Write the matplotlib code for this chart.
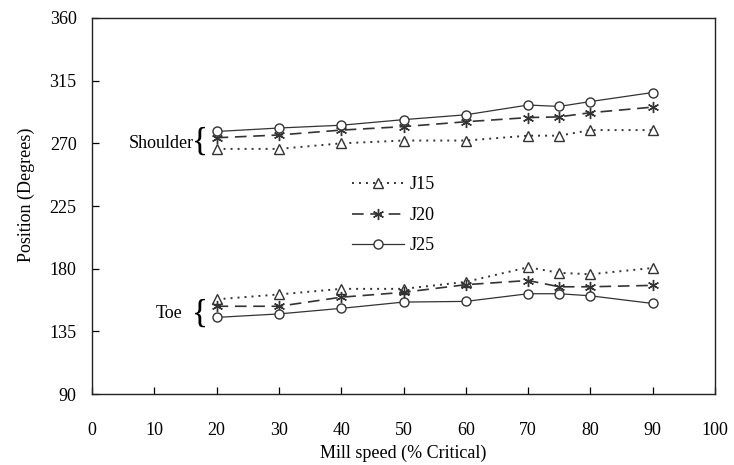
import matplotlib
matplotlib.use('Agg')
import matplotlib.pyplot as plt

plt.rcParams['font.family'] = ['Liberation Serif', 'DejaVu Serif']

# mill speed (% critical)
speed = [20, 30, 40, 50, 60, 70, 75, 80, 90]

# shoulder position (degrees)
shoulder_j15 = [266, 266, 270, 272, 272, 275.5, 275.5, 279.5, 279.5]
shoulder_j20 = [274, 276, 279.5, 282, 285.5, 288.5, 289, 292, 296]
shoulder_j25 = [278.5, 281, 283, 287, 290.5, 297.5, 296.5, 300, 306.5]

# toe position (degrees)
toe_j15 = [158, 161.5, 165.5, 165.5, 170.5, 181, 177, 176, 180.5]
toe_j20 = [153, 153, 159.5, 163, 168.5, 171.5, 167, 167, 168]
toe_j25 = [145, 147.5, 151.5, 156, 156.5, 162, 162, 160.5, 155]

x_ticks = list(range(0, 101, 10))
y_ticks = [90, 135, 180, 225, 270, 315, 360]

fig = plt.figure(figsize=(7.34, 4.65), dpi=100)
ax = fig.add_axes([92 / 734, 1 - 394 / 465, 623 / 734, 376 / 465])

col = '#333333'
dot = dict(color=col, lw=1.4, linestyle=(0, (1, 2.6)), marker='^', ms=6.5,
           mfc='white', mec=col, mew=1.0)
dash = dict(color=col, lw=1.2, linestyle=(0, (7, 4)), marker=(6, 2, 0), ms=8,
            mec=col, mew=1.0)
solid = dict(color=col, lw=0.9, linestyle='-', marker='o', ms=6.5,
             mfc='white', mec=col, mew=1.0)

ax.plot(speed, shoulder_j15, label='J15', **dot)
ax.plot(speed, shoulder_j20, label='J20', **dash)
ax.plot(speed, shoulder_j25, label='J25', **solid)
ax.plot(speed, toe_j15, **dot)
ax.plot(speed, toe_j20, **dash)
ax.plot(speed, toe_j25, **solid)

ax.set_xlim(0, 100)
ax.set_ylim(90, 360)
ax.set_xticks(x_ticks)
ax.set_yticks(y_ticks)
ax.tick_params(axis='both', direction='in', length=5, width=0.9, labelsize=13)
ax.tick_params(axis='x', pad=20)
ax.tick_params(axis='y', pad=11)
for s in ax.spines.values():
    s.set_linewidth(1.0)
    s.set_color('#222222')

ax.set_xlabel('Mill speed (% Critical)', fontsize=13, labelpad=4)
ax.set_ylabel('Position (Degrees)', fontsize=13)
ax.yaxis.set_label_coords(-0.092, 0.53)

# group labels with braces
ax.text(16.3, 270, 'Shoulder', ha='right', va='center', fontsize=13)
ax.text(17.4, 271.5, '{', ha='center', va='center', fontsize=24)
ax.text(14.5, 148, 'Toe', ha='right', va='center', fontsize=13)
ax.text(17.4, 147.5, '{', ha='center', va='center', fontsize=24)

ax.legend(loc='center left', bbox_to_anchor=(0.417, 0.475), frameon=False,
          fontsize=13, handlelength=2.9, handletextpad=0.3, labelspacing=0.75,
          borderpad=0, borderaxespad=0)

fig.savefig('out.png', dpi=100)
